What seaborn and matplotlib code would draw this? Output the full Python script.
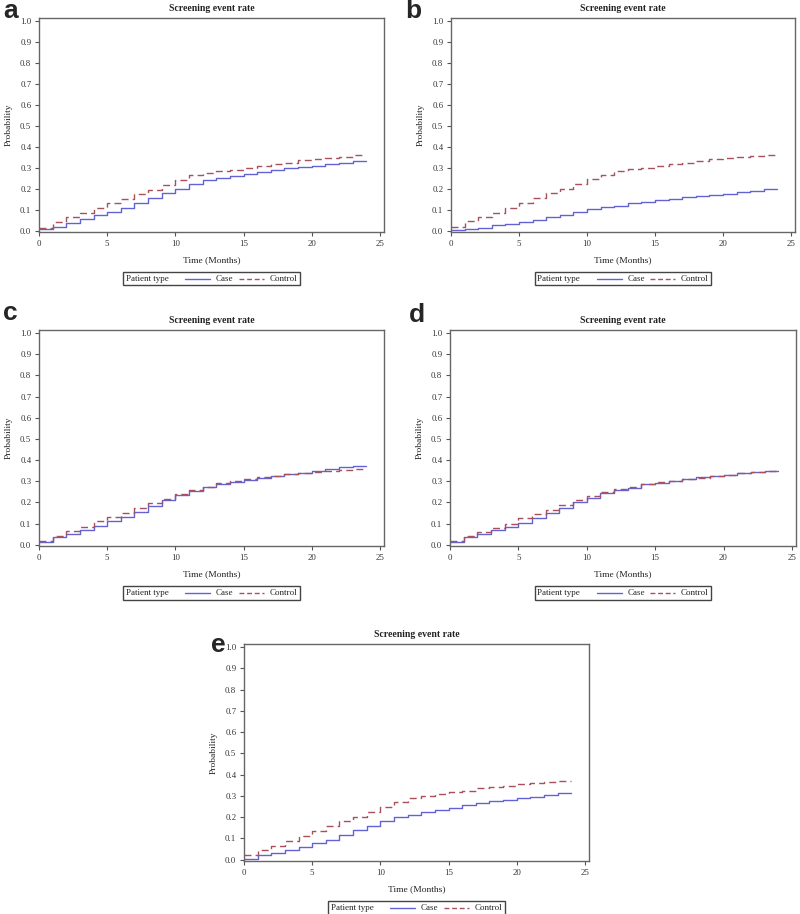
import numpy as np
import pandas as pd
import matplotlib
matplotlib.use("Agg")
import matplotlib.pyplot as plt
import seaborn as sns
from matplotlib.lines import Line2D
from matplotlib.offsetbox import AnchoredOffsetbox, HPacker, TextArea, DrawingArea

# Monthly step values (month 0..23), the last step is held to month 24
months = np.arange(0, 25)

case_a = [0.010, 0.020, 0.035, 0.055, 0.075, 0.090, 0.110, 0.130, 0.155, 0.180, 0.200, 0.225,
          0.240, 0.250, 0.260, 0.270, 0.280, 0.290, 0.300, 0.305, 0.310, 0.318, 0.325, 0.333]
ctrl_a = [0.015, 0.040, 0.065, 0.085, 0.110, 0.130, 0.150, 0.175, 0.195, 0.220, 0.240, 0.265,
          0.275, 0.285, 0.290, 0.300, 0.310, 0.320, 0.325, 0.335, 0.340, 0.345, 0.350, 0.360]

case_b = [0.005, 0.008, 0.015, 0.025, 0.033, 0.042, 0.052, 0.063, 0.075, 0.090, 0.103, 0.112,
          0.120, 0.130, 0.137, 0.145, 0.152, 0.160, 0.165, 0.170, 0.177, 0.183, 0.190, 0.198]
ctrl_b = [0.020, 0.045, 0.065, 0.085, 0.110, 0.130, 0.155, 0.180, 0.200, 0.225, 0.245, 0.265,
          0.285, 0.295, 0.300, 0.310, 0.320, 0.325, 0.330, 0.340, 0.345, 0.350, 0.355, 0.360]

case_c = [0.015, 0.035, 0.050, 0.070, 0.090, 0.110, 0.130, 0.155, 0.185, 0.210, 0.235, 0.255,
          0.275, 0.285, 0.295, 0.305, 0.315, 0.325, 0.335, 0.340, 0.350, 0.357, 0.365, 0.372]
ctrl_c = [0.020, 0.040, 0.065, 0.085, 0.110, 0.130, 0.150, 0.175, 0.195, 0.215, 0.240, 0.260,
          0.275, 0.290, 0.300, 0.310, 0.320, 0.325, 0.335, 0.340, 0.345, 0.350, 0.355, 0.360]

case_d = [0.015, 0.035, 0.050, 0.068, 0.085, 0.105, 0.125, 0.148, 0.175, 0.200, 0.220, 0.245,
          0.260, 0.270, 0.285, 0.290, 0.300, 0.310, 0.320, 0.325, 0.330, 0.337, 0.343, 0.350]
ctrl_d = [0.020, 0.040, 0.060, 0.080, 0.100, 0.125, 0.145, 0.165, 0.190, 0.210, 0.230, 0.250,
          0.265, 0.275, 0.285, 0.295, 0.300, 0.310, 0.315, 0.325, 0.330, 0.340, 0.345, 0.350]

case_e = [0.005, 0.020, 0.030, 0.045, 0.060, 0.078, 0.095, 0.115, 0.140, 0.160, 0.180, 0.200,
          0.210, 0.225, 0.235, 0.245, 0.255, 0.265, 0.275, 0.280, 0.290, 0.297, 0.305, 0.315]
ctrl_e = [0.020, 0.045, 0.065, 0.090, 0.110, 0.135, 0.160, 0.180, 0.200, 0.225, 0.250, 0.270,
          0.290, 0.300, 0.310, 0.320, 0.325, 0.335, 0.340, 0.345, 0.355, 0.360, 0.365, 0.370]

panel_labels = ["a", "b", "c", "d", "e"]
panel_data = [(case_a, ctrl_a), (case_b, ctrl_b), (case_c, ctrl_c), (case_d, ctrl_d), (case_e, ctrl_e)]
groups = ["Case", "Control"]
x_ticks = [0, 5, 10, 15, 20, 25]
y_ticks = [0.0, 0.1, 0.2, 0.3, 0.4, 0.5, 0.6, 0.7, 0.8, 0.9, 1.0]

colors = {"Case": "#6262d4", "Control": "#a8505c"}
dashes = {"Case": "", "Control": (5, 3)}

sns.set_style("ticks")
plt.rcParams["font.family"] = ["Liberation Serif", "DejaVu Serif"]

W, H = 800, 914
fig = plt.figure(figsize=(W / 100, H / 100), dpi=100)

# axes rectangles in figure fractions (left, bottom, width, height)
rects = [
    (0.04875, 0.7462, 0.43125, 0.2341),
    (0.56375, 0.7462, 0.43000, 0.2341),
    (0.04875, 0.4026, 0.43125, 0.2363),
    (0.56250, 0.4026, 0.43250, 0.2363),
    (0.30500, 0.0580, 0.43125, 0.2374),
]
# panel letter anchors (left x, baseline y) in pixels from top-left
letter_pos = [(3, 18), (405, 18), (3, 320), (409, 322), (211, 652)]


def make_frame(case, ctrl):
    rows = []
    for grp, vals in zip(groups, (case, ctrl)):
        y = np.append(vals, vals[-1])
        rows.append(pd.DataFrame({"month": months, "prob": y, "type": grp}))
    return pd.concat(rows, ignore_index=True)


def add_legend(ax):
    tp = dict(fontsize=6.5, color="#222222")
    items = [TextArea("Patient type", textprops=tp), DrawingArea(4, 6, 0, 0)]
    for g in groups:
        da = DrawingArea(18, 6, 0, 0)
        da.add_artist(Line2D([0, 18], [3, 3], color=colors[g], lw=1.0,
                             dashes=(3.5, 2) if g == "Control" else (None, None)))
        items += [da, TextArea(g, textprops=tp)]
    box = HPacker(children=items, align="center", pad=0, sep=4)
    anch = AnchoredOffsetbox(loc="upper center", child=box, pad=0.2, borderpad=0,
                             frameon=True, bbox_to_anchor=(0.5, -0.185),
                             bbox_transform=ax.transAxes)
    anch.patch.set_boxstyle("square", pad=0)
    anch.patch.set_edgecolor("#444444")
    anch.patch.set_linewidth(1.0)
    ax.add_artist(anch)


for lab, (case, ctrl), rect, lp in zip(panel_labels, panel_data, rects, letter_pos):
    ax = fig.add_axes(rect)
    df = make_frame(case, ctrl)
    sns.lineplot(data=df, x="month", y="prob", hue="type", style="type",
                 palette=colors, dashes=dashes, drawstyle="steps-post",
                 estimator=None, linewidth=1.0, legend=False, ax=ax)
    ax.set_xlim(0, 25.3)
    ax.set_ylim(-0.006, 1.014)
    ax.set_xticks(x_ticks)
    ax.set_yticks(y_ticks)
    ax.set_yticklabels([f"{v:.1f}" for v in y_ticks])
    ax.tick_params(labelsize=6.3, length=3, width=0.8, pad=2.5,
                   colors="#555555", labelcolor="#333333")
    for s in ax.spines.values():
        s.set_visible(True)
        s.set_color("#666666")
        s.set_linewidth(1.0)
    ax.set_xlabel("Time (Months)", fontsize=6.8, color="#222222", labelpad=6)
    ax.set_ylabel("Probability", fontsize=6.8, color="#222222", labelpad=5)
    ax.set_title("Screening event rate", fontsize=7, fontweight="bold", color="#222222", pad=5)
    add_legend(ax)
    fig.text(lp[0] / W, 1 - lp[1] / H, lab, fontsize=19, fontweight="bold",
             family=["Liberation Sans", "DejaVu Sans"], ha="left", va="baseline")

fig.savefig("out.png", dpi=100, facecolor="white")
